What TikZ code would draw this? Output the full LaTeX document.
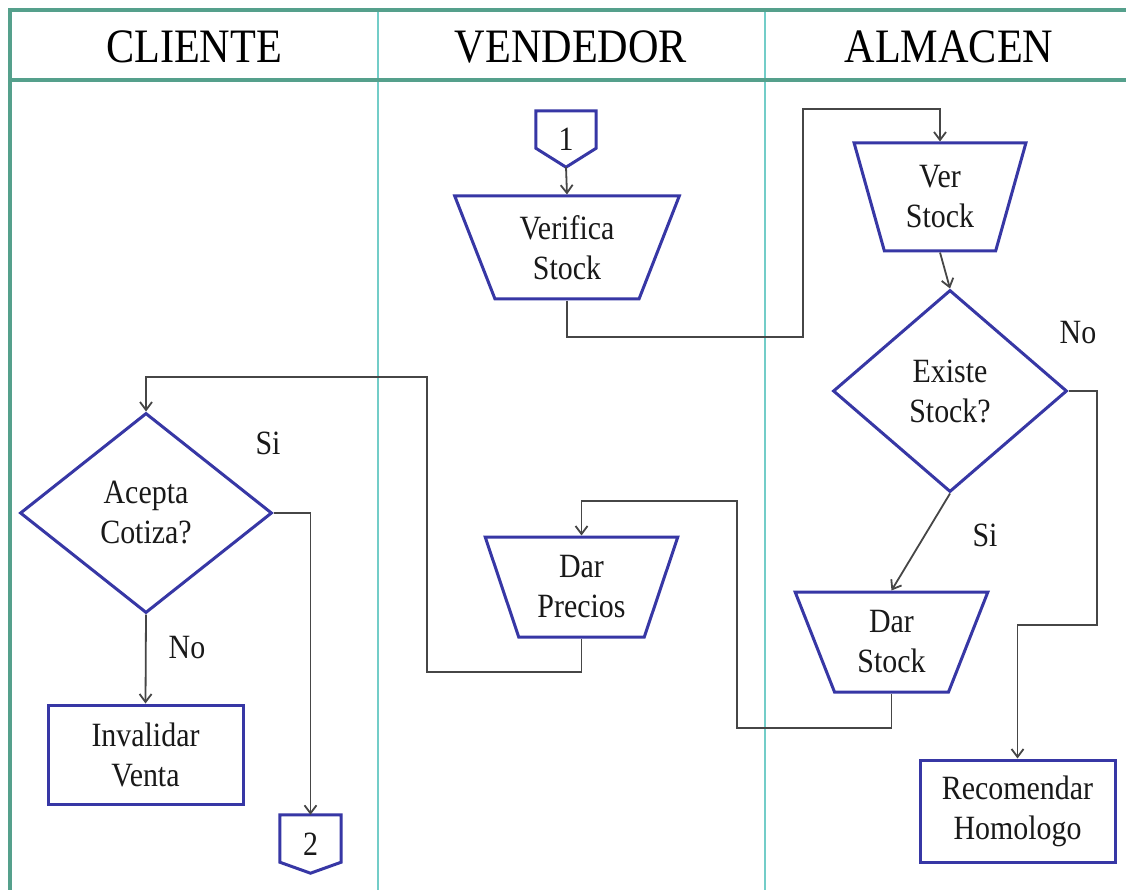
\documentclass[tikz,border=0pt]{standalone}
\usepackage{fontspec}
\setmainfont{Liberation Serif}[FakeStretch=0.88]
\usetikzlibrary{shapes.geometric,arrows.meta,calc}
\definecolor{shapeblue}{RGB}{55,55,165}
\definecolor{lanedark}{RGB}{85,160,140}
\definecolor{lanelight}{RGB}{115,205,200}
\definecolor{linegray}{RGB}{70,70,70}
\begin{document}
\begin{tikzpicture}[x=1pt,y=-1pt,
  txt/.style={font=\fontsize{34}{40}\selectfont, text=black!90, align=center},
  blk/.style={txt, draw=shapeblue, line width=3pt, inner sep=0pt},
  trap/.style={blk, trapezium, shape border rotate=180, trapezium stretches=true},
  dec/.style={blk, diamond},
  box/.style={blk, rectangle},
  page/.style={txt, rectangle, inner sep=0pt},
  pageline/.style={draw=shapeblue, line width=3pt},
  arr/.style={draw=linegray, line width=1.8pt, -{Straight Barb[length=8pt,width=12pt]}},
  lbl/.style={txt},
  head/.style={font=\fontsize{48}{52}\selectfont, text=black}
]
\useasboundingbox (0,0) rectangle (1126,890);
\fill[white] (0,0) rectangle (1126,890);

% swimlanes
\draw[lanelight, line width=2.5pt] (378,10) -- (378,890) (765,10) -- (765,890);
\draw[lanedark, line width=3.5pt] (10,892) -- (10,10) -- (1130,10) (10,80) -- (1130,80);

\node[head] (hc) at (194,47) {CLIENTE};
\node[head] (hv) at (571,47) {VENDEDOR};
\node[head] (ha) at (949,47) {ALMACEN};

% nodes
\node[page, minimum width=60, minimum height=56] (c1) at (566,139) {1};
\draw[pageline] (c1.north west) -- (c1.north east) -- ($(c1.south east)+(0,-19)$) -- (c1.south) -- ($(c1.south west)+(0,-19)$) -- cycle;

\node[trap, trapezium left angle=67.6, trapezium right angle=67.6, minimum width=225, minimum height=103] (verif) at (567,247.5) {Verifica\\Stock};
\node[trap, trapezium left angle=73.5, trapezium right angle=73.5, minimum width=172, minimum height=108] (verstock) at (940,197) {Ver\\Stock};
\node[dec, minimum width=234, minimum height=202] (existe) at (950,391) {Existe\\Stock?};
\node[trap, trapezium left angle=69.4, trapezium right angle=69.4, minimum width=193, minimum height=100] (darstock) at (891.5,642) {Dar\\Stock};
\node[trap, trapezium left angle=69.4, trapezium right angle=69.4, minimum width=193, minimum height=100] (darprec) at (581.5,587) {Dar\\Precios};
\node[dec, minimum width=252, minimum height=200] (acepta) at (146,513) {Acepta\\Cotiza?};
\node[box, minimum width=195, minimum height=99] (invalid) at (145.5,754.5) {Invalidar\\Venta};
\node[box, minimum width=195, minimum height=102] (recom) at (1017.5,811) {Recomendar\\Homologo};

\node[page, minimum width=61, minimum height=58] (c2) at (310.5,844) {2};
\draw[pageline] (c2.north west) -- (c2.north east) -- ($(c2.south east)+(0,-11)$) -- (c2.south) -- ($(c2.south west)+(0,-11)$) -- cycle;

% labels
\node[lbl] (si1) at (268,443) {Si};
\node[lbl] (no1) at (187,648) {No};
\node[lbl] (no2) at (1078,333) {No};
\node[lbl] (si2) at (985,535) {Si};

% connectors
\coordinate (p1) at (803,337); \coordinate (p2) at (803,109);
\coordinate (q1) at (1097,625);
\coordinate (r1) at (737,728); \coordinate (r2) at (737,501);
\coordinate (s1) at (427,672); \coordinate (s2) at (427,377);

\draw[arr] (c1.south) -- (verif.north);
\draw[arr] (verif.south) |- (p1) -- (p2) -| (verstock.north);
\draw[arr] (verstock.south) -- (existe.north);
\draw[arr] (existe.east) -| (q1) -| (recom.north);
\draw[arr] (existe.south) -- (darstock.north);
\draw[arr] (darstock.south) |- (r1) -- (r2) -| (darprec.north);
\draw[arr] (darprec.south) |- (s1) -- (s2) -| (acepta.north);
\draw[arr] (acepta.east) -| (c2.north);
\draw[arr] (acepta.south) -- (invalid.north);
\end{tikzpicture}
\end{document}
